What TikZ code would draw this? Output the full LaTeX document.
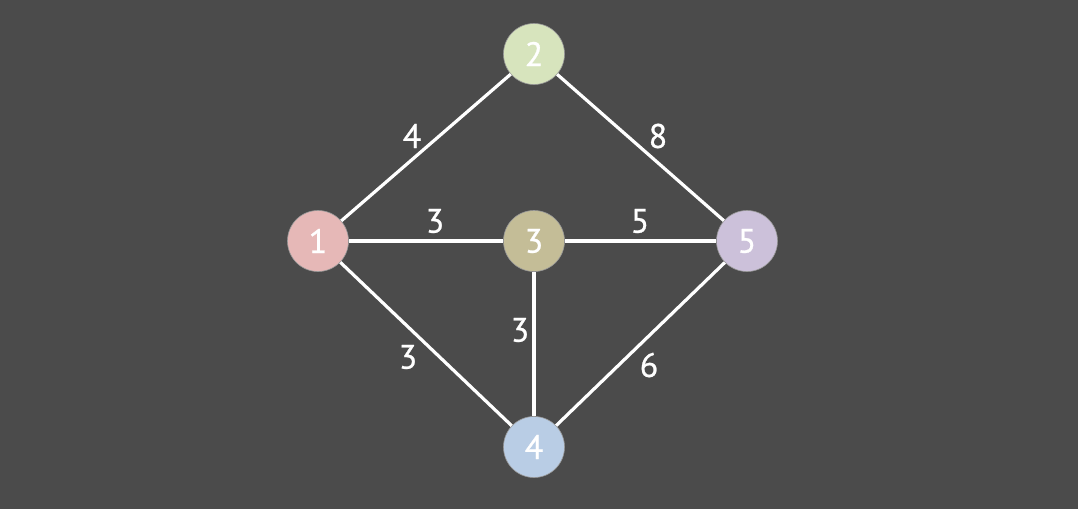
\documentclass[tikz,border=0pt]{standalone}
\usepackage{fontspec}
\setmainfont{PT Sans}
\newfontfamily\labfont[FakeBold=0.8]{PT Sans}
\definecolor{bg}{HTML}{4B4B4B}
\definecolor{cA}{HTML}{E6B8B7}
\definecolor{cB}{HTML}{D7E4BD}
\definecolor{cC}{HTML}{C4BD97}
\definecolor{cD}{HTML}{B9CDE5}
\definecolor{cE}{HTML}{CCC1DA}
\begin{document}
\begin{tikzpicture}[x=1pt,y=-1pt,
  vert/.style={circle,minimum size=61pt,inner sep=0pt,draw=black!40,line width=0.6pt,text=white,font=\labfont\fontsize{34}{34}\selectfont},
  edge/.style={draw=white,line width=3.2pt},
  wlab/.style={text=white,font=\labfont\fontsize{34}{34}\selectfont,inner sep=0pt}]
\fill[bg] (0,0) rectangle (1078,509);
\useasboundingbox (0,0) rectangle (1078,509);
\node[vert,fill=cA] (n1) at (318,241) {1};
\node[vert,fill=cB] (n2) at (534,54) {2};
\node[vert,fill=cC] (n3) at (534,241) {3};
\node[vert,fill=cD] (n4) at (534,447) {4};
\node[vert,fill=cE] (n5) at (747,241) {5};
\draw[edge] (n1) -- (n2);
\draw[edge] (n2) -- (n5);
\draw[edge] (n1) -- (n3);
\draw[edge] (n3) -- (n5);
\draw[edge] (n1) -- (n4);
\draw[edge] (n3) -- (n4);
\draw[edge] (n4) -- (n5);
\node[wlab] (l12) at (412,136) {4};
\node[wlab] (l25) at (658,136) {8};
\node[wlab] (l13) at (435,221) {3};
\node[wlab] (l35) at (640,221) {5};
\node[wlab] (l34) at (520,330) {3};
\node[wlab] (l14) at (408,357) {3};
\node[wlab] (l45) at (649,365) {6};
\end{tikzpicture}
\end{document}
